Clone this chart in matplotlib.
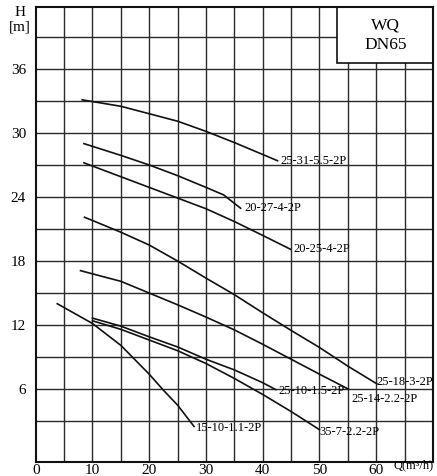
import matplotlib
matplotlib.use("Agg")
import matplotlib.pyplot as plt
from matplotlib.patches import Rectangle

plt.rcParams['font.family'] = ['Liberation Serif', 'DejaVu Serif']

# pump curves: flow Q (m3/h) and head H (m)
names = ["25-31-5.5-2P", "20-27-4-2P", "20-25-4-2P", "25-18-3-2P",
         "25-14-2.2-2P", "25-10-1.5-2P", "35-7-2.2-2P", "15-10-1.1-2P"]
q_25_31 = [8.2, 15, 20, 25, 30, 35, 42.6]
h_25_31 = [33.1, 32.5, 31.8, 31.1, 30.15, 29.1, 27.4]
q_20_27 = [8.5, 15, 20, 25, 30, 33.1, 36.1]
h_20_27 = [29.0, 27.9, 27.0, 26.0, 24.9, 24.2, 22.95]
q_20_25 = [8.5, 15, 20, 25, 30, 35, 40, 44.9]
h_20_25 = [27.2, 25.9, 24.9, 23.9, 22.9, 21.7, 20.4, 19.1]
q_25_18 = [8.6, 10, 15, 20, 25, 30, 35, 40, 45, 50, 55, 60.1]
h_25_18 = [22.1, 21.8, 20.7, 19.5, 18.0, 16.4, 14.85, 13.15, 11.5, 9.9, 8.15, 6.5]
q_25_14 = [7.9, 10, 15, 20, 25, 30, 35, 40, 45, 50, 55.1]
h_25_14 = [17.1, 16.8, 16.1, 15.0, 13.9, 12.75, 11.55, 10.2, 8.8, 7.4, 6.0]
q_25_10 = [10, 15, 20, 25, 30, 35, 40, 42.3]
h_25_10 = [12.65, 11.9, 10.9, 9.95, 8.8, 7.8, 6.6, 5.95]
q_35_7 = [10, 15, 20, 25, 30, 35, 40, 45, 50]
h_35_7 = [12.4, 11.6, 10.6, 9.6, 8.4, 7.0, 5.5, 3.9, 2.2]
q_15_10 = [3.8, 10, 15, 20, 22.5, 25, 27.9]
h_15_10 = [14.0, 12.15, 10.1, 7.4, 5.9, 4.5, 2.5]

curves = [(q_25_31, h_25_31), (q_20_27, h_20_27), (q_20_25, h_20_25),
          (q_25_18, h_25_18), (q_25_14, h_25_14), (q_25_10, h_25_10),
          (q_35_7, h_35_7), (q_15_10, h_15_10)]
# label offsets from curve end (points)
offsets = [(2, 0), (3, 0), (2, 0), (0, 1), (2, -7), (2, -1), (0, -2), (1, -1)]

x_ticks = [0, 10, 20, 30, 40, 50, 60]
y_ticks = [6, 12, 18, 24, 30, 36]

fig = plt.figure(figsize=(4.37, 4.76), dpi=100)
ax = fig.add_axes([35.7 / 437, 1 - 461.7 / 476, (433 - 35.7) / 437, (461.7 - 7) / 476])
ax.set_xlim(0, 70)
ax.set_ylim(-0.8, 41.8)

for x in range(5, 70, 5):
    ax.axvline(x, color='#2a2a2a', lw=1.0, zorder=1)
for y in range(3, 42, 3):
    ax.axhline(y, color='#2a2a2a', lw=1.0, zorder=1)

for (q, h), name, off in zip(curves, names, offsets):
    ax.plot(q, h, color='#111111', lw=1.2, zorder=3)
    ax.annotate(name, (q[-1], h[-1]), xytext=off, textcoords='offset points',
                ha='left', va='center', fontsize=9, zorder=4)

box = Rectangle((53.05, 36.6), 70 - 53.05, 41.8 - 36.6, facecolor='white',
                edgecolor='#111111', lw=1.2, zorder=5)
ax.add_patch(box)
ax.text(61.7, 40.1, "WQ", ha='center', va='center', fontsize=12.5, zorder=6)
ax.text(61.7, 38.2, "DN65", ha='center', va='center', fontsize=12.5, zorder=6)

ax.set_xticks(x_ticks)
ax.set_yticks(y_ticks)
ax.set_xticklabels([str(v) for v in x_ticks])
ax.set_yticklabels([str(v) for v in y_ticks])
ax.tick_params(axis='x', length=0, pad=2, labelsize=11)
ax.tick_params(axis='y', length=0, pad=7, labelsize=11)
for s in ax.spines.values():
    s.set_linewidth(1.5)
    s.set_color('#111111')
    s.set_zorder(7)

fig.text(20 / 437, 1 - 12 / 476, "H", ha='center', va='center', fontsize=11)
fig.text(20 / 437, 1 - 27 / 476, "[m]", ha='center', va='center', fontsize=11)
fig.text(414 / 437, 1 - 465 / 476, "Q(m³/h)", ha='center', va='center', fontsize=9)

fig.savefig("out.png", dpi=100)
